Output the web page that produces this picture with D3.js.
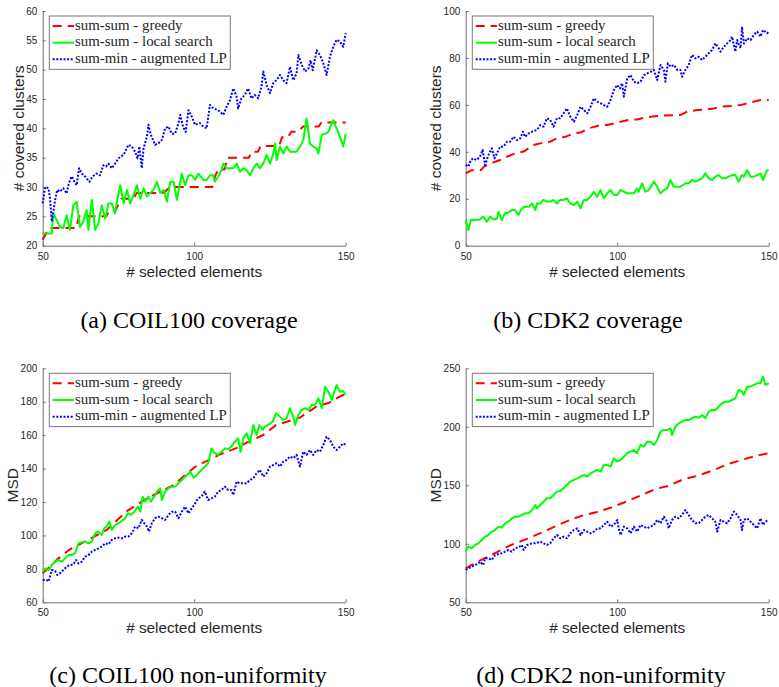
<!DOCTYPE html>
<html><head><meta charset="utf-8">
<script src="https://cdn.jsdelivr.net/npm/d3@7/dist/d3.min.js"></script>
<style>
html,body{margin:0;padding:0;background:#fff;}
svg{display:block;}
</style></head>
<body>
<svg id="chart" width="779" height="687"></svg>
<script>
// ---------- data ----------
const seriesNames = ["sum-sum - greedy", "sum-sum - local search", "sum-min - augmented LP"];
const xTicks = [50, 100, 150];
const yTicksCoilCov = [20, 25, 30, 35, 40, 45, 50, 55, 60];
const yTicksCdkCov = [0, 20, 40, 60, 80, 100];
const yTicksCoilMsd = [60, 80, 100, 120, 140, 160, 180, 200];
const yTicksCdkMsd = [50, 100, 150, 200, 250];
const xLabel = "# selected elements";
const yLabelCov = "# covered clusters";
const yLabelMsd = "MSD";
const captions = ["(a) COIL100 coverage", "(b) CDK2 coverage", "(c) COIL100 non-uniformity", "(d) CDK2 non-uniformity"];

// (a) COIL100 coverage
const coilCovGreedy = [[50,21],[51,22],[52,23],[61,23],[62,25],[71,25],[72,26],[74,26],[75,27],[76,28],[80,28],[81,29],[90,29],[92,30],[106,30],[107,32],[108,33],[110,33],[111,35],[118,35],[119,36],[121,36],[122,37],[128,37],[129,38.5],[131,38.5],[132,39.4],[134,39.4],[136,40.3],[141,40.3],[142,41],[150,41]];
const coilCovLocal = [[50,22.1],[52.4,22.1],[53,22.1],[53.5,25.5],[54.6,24.4],[55.7,23.2],[56.8,23],[57.9,25.2],[59,22.7],[60.1,26.9],[61.2,27.5],[62.3,23.2],[63.4,24.1],[64.5,26.1],[65.1,22.7],[66.2,27.8],[67.3,22.7],[68.4,23.8],[69.5,26.9],[70.6,24.6],[71.7,27.2],[72.8,27.2],[73.9,25.5],[74.4,27.2],[75.6,30.3],[76.7,27.2],[77.8,29.5],[78.9,27.2],[80,28.6],[81.1,30.3],[82.2,28],[83.3,29.8],[84.4,28.4],[85.5,29],[86.6,29.5],[87.7,30.9],[88.8,29],[89.9,29.5],[91,27.5],[92.1,30.9],[93.2,30.9],[94.3,27.8],[95.9,32.3],[97,30.3],[98.1,32],[99.2,32],[100.3,31.2],[101.4,32.3],[103,31.2],[104.1,31.2],[105.2,32],[106.3,32],[106.8,30.9],[107.9,31.8],[109,32.9],[109.6,34],[110.7,33.2],[111.8,33.2],[112.9,33.2],[114,34],[115.1,32.6],[116.2,33.2],[117.3,32.9],[118.4,32],[119.5,33.2],[120.6,34],[121.7,33.2],[122.8,34],[123.9,35.5],[125,34],[126.1,35.7],[126.7,37.4],[127.2,34.6],[128.3,36.9],[129.4,35.7],[130.5,36.9],[131.6,36],[132.7,36],[133.8,36],[134.9,36.9],[136,38],[137.1,41.7],[138.2,37.4],[139.3,36.9],[140.4,36.6],[141,35.7],[142.1,38.9],[143.2,39.1],[144.3,39.4],[145.4,40.9],[145.9,41.4],[147,40],[148.1,38.6],[149.2,36.9],[150,39.1]];
const coilCovLP = [[50,27.2],[50.8,30],[51.9,29.8],[52.4,28.1],[53,24.1],[54.1,27.8],[54.8,29.5],[55.7,29.2],[56.8,29.8],[57.9,28.9],[58.5,30.3],[59,31.2],[59.6,31.8],[60.4,31],[61.2,30.3],[62,33.2],[62.9,32.3],[64,31.8],[65.4,30.9],[66.5,31.8],[67.8,32.3],[68.9,32],[70,33.7],[70.9,33.5],[71.7,34],[72.8,33.2],[73.9,34],[75,34.9],[76.7,35.5],[78.3,37.2],[79.4,36.9],[80.5,36],[81.3,34.9],[81.9,36.9],[82.7,33.2],[83.3,36.6],[84.4,38.6],[84.9,40.6],[85.7,38.9],[87.1,37.2],[88.3,37.5],[89.3,38],[90.4,40],[91.5,40.3],[92.6,39.1],[93.7,39.1],[94.8,40.9],[95.4,42.3],[96.3,40.3],[97.2,39.4],[98.1,43.1],[99.2,42],[100.3,40.6],[101.9,40.9],[103,40.3],[104.1,40],[105.2,44],[106.3,43.4],[107.9,43.1],[109.6,42.3],[110.7,43.7],[111.8,44.8],[112.9,46.8],[114,45.4],[114.5,43.4],[115.6,45.1],[116.7,45.7],[117.8,46.8],[118.9,45.1],[120,45.7],[121.1,45.1],[122.2,47.1],[122.8,49.7],[123.9,47.4],[125,46],[126.1,47.7],[127.2,48.2],[128.3,49.1],[129.4,48.2],[130.5,47.7],[131.6,50.5],[132.7,48.2],[133.8,49.4],[134.4,52.5],[135.5,50.8],[136.6,49.7],[137.7,50.2],[138.4,51.6],[139.1,49.9],[139.9,51.9],[140.4,53.3],[141.5,52.5],[142.6,51.1],[143.7,49.1],[144.8,52.2],[145.9,53.9],[147,55.1],[148.1,54.8],[149.2,53.9],[150,56.2]];

// (b) CDK2 coverage
const cdkCovGreedy = [[50,30.8],[52,32.2],[55,32.2],[56,33.7],[59.7,35.8],[61.4,36.5],[63.6,37.9],[66.3,39.3],[69.1,40.1],[72.4,42.9],[74.6,43.6],[77.9,44.3],[80.1,45.7],[82.9,46.4],[85.7,47.9],[87.9,48.2],[90.6,50],[94.5,51.4],[96.7,51.4],[98.9,52.1],[101.1,52.8],[103.8,53.6],[106.6,53.8],[108.2,54.3],[111.5,55],[114.3,55.4],[120.9,55.7],[123.1,57.1],[126.4,57.8],[129.7,58.1],[131.9,58.5],[134.1,59.2],[137.4,59.5],[140.7,59.9],[142.9,60.7],[147.3,62.1],[150,62.1]];
const cdkCovLocal = [[50,10.9],[50.9,6.7],[51.7,10.9],[53.1,10.9],[54.7,11.2],[55.8,12.4],[57,10.2],[58.1,12.4],[59.2,11.2],[60.3,11.6],[60.8,14.5],[61.9,10.9],[63,13.8],[64.1,14.1],[65.2,15.2],[66.3,15.2],[67.4,13.1],[68.5,15.9],[69.6,16.6],[70.8,16.6],[71.9,18],[73,15.2],[73.5,18],[74.6,18],[75.7,19.5],[76.8,18.8],[77.9,18.8],[79,19.5],[80.1,18],[81.2,19.5],[82.3,19.5],[83.4,20.2],[84.5,18],[85.7,17.3],[86.8,18.8],[87.9,15.9],[89,19.5],[90.1,19.5],[91.2,20.9],[92.3,23],[93.4,20.9],[94.5,23.7],[95.6,20.2],[96.7,22.3],[97.8,23.7],[98.9,21.6],[100,21.6],[101.1,23.7],[102.2,23],[103.3,22.3],[104.4,22.3],[105.5,22.3],[106.6,24.4],[107.1,23],[108.2,26.6],[109.3,23],[110.4,23.7],[112.1,27.3],[113.2,25.1],[114.3,22.3],[115.4,23.7],[116.5,24.4],[117.6,28],[118.7,25.1],[119.8,25.1],[120.9,25.1],[122.5,26.6],[123.6,26.6],[124.7,28],[125.8,27.3],[126.9,28],[128,28.7],[129.1,30.8],[130.2,28.7],[131.3,28],[132.4,29.4],[133.5,30.1],[134.6,28.7],[135.7,28.7],[136.8,29.4],[137.9,30.1],[139,30.1],[140.1,27.3],[141.2,30.1],[141.8,29.4],[142.9,32.2],[144,29.4],[145.1,29.4],[146.2,30.1],[147.3,30.8],[148.1,28],[149.5,32.2],[150,32.2]];
const cdkCovLP = [[50,34.4],[50.9,33.7],[51.7,36.5],[52.5,37.2],[53.6,36.5],[54.7,37.9],[55.6,40.8],[56.4,34.4],[57.5,38.6],[58.6,41.5],[59.5,37.2],[60.3,39.3],[61.4,42.2],[62.5,42.2],[63.6,44.3],[64.7,44.3],[65.8,46.4],[66.9,45],[68,45.7],[68.9,48.6],[69.6,46.4],[70.8,47.9],[71.9,48.6],[73.5,49.3],[74.6,51.4],[75.7,50.7],[76.8,54.3],[77.9,53.6],[79,50.7],[80.1,54.3],[81.2,54.3],[82.3,56.4],[83.4,58.5],[84.5,55],[85.7,52.8],[86.8,55.7],[87.9,59.2],[89,57.8],[90.1,56.4],[91.2,59.2],[92.3,62.8],[93.4,61.4],[94.5,60.7],[95.6,59.9],[96.7,59.2],[97.8,62.1],[98.9,66.3],[100,68.5],[100.9,67],[101.6,69.2],[102.2,63.5],[103.3,71.3],[104.4,72.7],[105.5,69.9],[106.6,69.2],[107.7,69.9],[108.8,72.7],[109.9,73.4],[111,74.1],[112.1,74.9],[113.2,70.6],[114.3,77],[115.4,74.9],[115.9,69.9],[116.7,77.7],[117.6,76.3],[118.7,77],[119.8,74.9],[120.9,74.9],[121.4,72],[122.5,74.9],[123.6,77],[124.7,81.3],[125.8,79.8],[126.9,80.5],[128,79.1],[129.1,80.5],[130.2,82],[131.3,83.4],[132.4,86.2],[133.5,84.1],[134.1,82.7],[135.2,84.8],[136.3,86.2],[137.4,87.6],[137.9,89.1],[139,82.7],[139.6,87.6],[140.7,84.1],[141.2,93.3],[141.8,86.2],[142.9,88.4],[144,87.6],[145.1,89.8],[146.2,91.2],[147.3,89.1],[148.1,91.9],[149.5,90.5],[150,91.2]];

// (c) COIL100 non-uniformity
const coilMsdGreedy = [[50,77.3],[55.2,86.3],[59,91.7],[64.5,96.9],[71.1,103.3],[77.8,114.6],[84.4,122.2],[89.9,127.2],[93.2,130.2],[100.2,141],[108.8,148.7],[114.5,152.7],[117.8,156],[122.8,160.1],[127,166],[131.6,168.6],[134.9,170.5],[140.2,177],[144.3,179.2],[149,184],[150,184.4]];
const coilMsdLocal = [[50,78.3],[50.8,80.3],[51.9,79.3],[52.4,80.3],[53,82.3],[54.1,84.3],[55.2,85.3],[56.3,84.3],[57.4,86.3],[58.5,88.3],[59.6,88.3],[60.7,89.3],[61.8,95.3],[62.9,95.9],[64,96.3],[65.1,95.3],[66.2,96.3],[67.3,101.3],[68.4,102.3],[69.5,100.3],[70.3,104.3],[71.1,105.3],[72,108.3],[72.8,103.3],[73.9,106.3],[75,107.3],[76.1,108.7],[77.2,110.3],[78.1,113.3],[79.2,112.3],[80.3,114.3],[81.4,117.3],[82.2,114.3],[83,123.2],[83.8,120.2],[84.9,123.2],[85.7,120.2],[86.8,123.2],[87.7,126.2],[88.8,128.2],[89.3,121.2],[90.4,126.2],[91.5,128.2],[92.6,129.2],[93.7,129.2],[94.8,131.2],[95.9,133.2],[97.6,136.2],[98.7,138.2],[99.8,134.6],[100.9,136.2],[101.3,137.2],[103,140.2],[104.6,143.2],[105.7,152.1],[106.8,149.2],[107.9,148.2],[109,150.1],[110.1,152.1],[111.2,151.7],[112.3,153.1],[113.4,156.1],[114.5,158.1],[115.3,150.1],[116.2,158.1],[117.3,161.1],[118.4,155.1],[119.5,166.1],[120.6,160.1],[121.5,166.1],[122.6,163.1],[123.3,165.1],[124.4,166.1],[125.9,168.1],[127,173.1],[128.3,171.1],[129.4,169.1],[130.5,170.1],[131.6,176.1],[132.7,171.1],[133.3,166.1],[134.4,172.1],[135.5,175.1],[136.6,176.1],[137.7,175.1],[138.8,178.1],[139.9,178.1],[141,182.1],[142.1,176.1],[143.2,189],[144.3,186],[145.4,181.1],[147,190],[148.1,186],[149.2,186.4],[150,184]];
const coilMsdLP = [[50,73.4],[51.3,73.4],[51.9,72.4],[53,79.3],[54.1,78.7],[54.8,76.4],[55.7,77.4],[56.8,79.3],[57.9,81.3],[59,82.3],[60.1,82.7],[61,85.3],[61.8,83.3],[62.9,84.3],[64,87.3],[65.1,88.3],[66.2,90.3],[67.3,91.3],[68.4,92.3],[69.5,93.3],[70.6,95.3],[71.7,94.7],[72.8,97.3],[73.9,98.3],[75,98.7],[76.1,98.3],[77.2,99.3],[78.3,99.3],[79.4,101.3],[80.5,105.3],[81.6,104.3],[82.7,109.3],[83.5,107.3],[84.4,105.3],[85.1,102.3],[86,107.3],[87.1,110.3],[88.2,111.3],[89.3,110.3],[90.4,109.3],[91.5,112.3],[92.6,114.2],[93.7,114.2],[94.8,110.3],[95.9,114.2],[97,117.2],[98.1,113.2],[99.2,116.2],[100.3,119.2],[101.3,122.2],[102.4,123.2],[103.5,126.2],[104.6,121.2],[105.7,122.2],[106.8,123.2],[107.9,126.2],[109,127.2],[110.1,129.2],[111.2,127.2],[112.3,127.2],[112.9,124.2],[114,132.2],[115.1,131.2],[116.2,131.2],[117.3,131.2],[118.4,133.2],[119.5,134.2],[120.6,137.2],[121.7,139.2],[122.8,135.2],[123.9,137.2],[125,141.2],[126.1,142.2],[127.2,143.2],[128.3,141.2],[129.4,144.2],[130.5,145.2],[131.6,147.2],[132.7,146.2],[133.8,148.2],[134.9,141.2],[136,150.1],[137.1,148.2],[138.2,151.1],[139.3,148.2],[140.4,151.1],[141.5,150.1],[142.6,154.1],[143.7,159.1],[144.8,157.1],[145.9,153.1],[147,151.1],[148.1,153.1],[149.2,155.1],[150,154.1]];

// (d) CDK2 non-uniformity
const cdkMsdGreedy = [[50,79],[52,81.9],[55,86],[60,92.5],[65,99],[70,104],[75,109.5],[80,115.5],[85,121],[89,124.5],[93,127],[98,131],[103,136],[107.5,141],[112.5,146.7],[117,149.6],[122,155.3],[126.5,158.1],[132,163.1],[136.3,168],[141.8,172.3],[147,175.9],[150,177.4]];
const cdkMsdLocal = [[50,93.3],[50.9,97.6],[52,96.2],[53.1,99],[54.2,100.4],[55.3,103.3],[56.4,106.1],[57.5,107.5],[58.6,110.4],[59.7,111.8],[60.8,114.7],[61.9,113.9],[63,117.5],[64.1,118.9],[65.2,121.8],[66.3,123.2],[67.4,123.2],[68.5,124.6],[69.6,126.1],[70.8,126.1],[71.9,128.9],[73,133.2],[73.5,130.3],[74.6,133.2],[75.7,136],[76.8,138.9],[77.9,138.9],[79,141.7],[80.1,144.6],[81.2,145.2],[82.3,147.4],[83.4,150.3],[84.5,153.1],[85.7,154.6],[86.8,156],[87.9,157.4],[89,158.8],[90.1,157.4],[91.2,160.3],[92.3,161.7],[93.4,163.1],[94.5,161.7],[95.6,167.4],[96.7,167.4],[97.8,166],[98.9,173.1],[100,170.2],[101.1,171.6],[102.2,174.5],[103.3,177.4],[104.4,178.8],[105.5,180.2],[106.6,177.4],[107.7,184.5],[108.8,183],[109.9,187.3],[111,187.3],[112.1,184.5],[113.2,188.7],[114.3,195.9],[115.4,197.3],[116.5,197.3],[117.6,198.7],[118.1,193],[119.2,200.1],[120.3,203],[121.4,204.4],[122.5,205.8],[123.6,205.8],[124.7,207.3],[125.8,208.7],[126.9,207.8],[128,210.1],[129.1,207.3],[130.2,213],[131.3,214.4],[132.4,214.4],[133.5,217.2],[134.6,220.1],[135.7,221.5],[136.8,221.5],[137.9,222.9],[139,224.4],[140.1,231.5],[141.2,230.1],[141.8,227.2],[142.9,234.3],[144,234.3],[145.1,235.8],[146.2,237.2],[147.3,237.2],[148.1,242.9],[148.9,235.8],[150,237.2]];
const cdkMsdLP = [[50,77.6],[50.9,79],[52,80.5],[53.1,81.9],[54.2,83.3],[54.7,84.8],[55.8,81.9],[56.4,87.6],[57.5,87.6],[58.6,86.2],[59.7,90.5],[60.8,91.2],[61.9,91.9],[63,93.3],[64.1,94.7],[65.2,93.3],[66.3,96.2],[67.4,96.9],[68.5,99],[69.1,94.7],[70.2,99],[71.9,100.4],[73,100.4],[74.6,101.9],[75.7,100.4],[76.8,99],[77.9,100.4],[79,104.7],[80.1,107.5],[81.2,104.7],[82.3,106.1],[83.4,104.7],[84.5,109],[85.7,111.8],[86.8,113.2],[87.9,107.5],[89,111.8],[90.1,110.4],[91.2,109],[92.3,110.4],[93.4,113],[94.5,113.2],[95.6,116.1],[96.7,118.9],[97.8,114.7],[98.9,116.1],[100,120.4],[100.5,113.2],[101.1,107.5],[102.2,114.7],[103.3,113.2],[104.4,109],[105.5,114.7],[106.6,110.4],[107.7,116.1],[108.8,114.7],[109.9,113.2],[111,114.7],[112.1,116.1],[113.2,120.4],[114.3,117.5],[115.4,123.2],[116.5,118.9],[117,113.2],[118.1,120.4],[119.2,123.2],[120.3,121.8],[121.4,124.6],[122.5,128.9],[123.6,124.6],[124.7,120.4],[125.8,117.5],[126.9,117.5],[128,120.4],[129.1,123.2],[130.2,124.6],[131.3,121.8],[132.4,118.9],[133,110.4],[134.1,120.4],[135.2,118.9],[136.3,117.5],[137.4,121.8],[138.5,127.5],[139.6,124.6],[140.7,120.4],[141.2,111.8],[141.8,120.4],[142.9,121.8],[144,118.9],[145.1,116.1],[146.2,113.2],[147.3,121.8],[148.1,116.1],[148.9,118.9],[150,120.4]];

// ---------- font detection ----------
function pickFont(cands, fallback) {
  const ctx = document.createElement("canvas").getContext("2d");
  const txt = "(a) COIL100 coverage sum-min mmwwiiLP";
  for (const f of cands) {
    let ok = true;
    for (const g of ["monospace", "sans-serif"]) {
      ctx.font = "40px " + g;
      const w0 = ctx.measureText(txt).width;
      ctx.font = '40px "' + f + '", ' + g;
      const w1 = ctx.measureText(txt).width;
      if (Math.abs(w0 - w1) < 0.01) { ok = false; break; }
    }
    if (ok) return '"' + f + '", serif';
  }
  return fallback;
}
const serifFont = pickFont(["Liberation Serif", "Tinos", "Times New Roman", "Times", "Nimbus Roman", "Nimbus Roman No9 L", "FreeSerif", "TeX Gyre Termes", "DejaVu Serif", "Noto Serif", "Bitstream Vera Serif", "Source Serif Pro", "Georgia"], "serif");
const sansFont = '"Liberation Sans", Arial, Helvetica, sans-serif';

// ---------- layout / style ----------
const svg = d3.select("#chart");
const axisColor = "#6f6f6f";
const textColor = "#262626";
const styles = [
  {color: "#ff0000", dash: "9,6", width: 2},
  {color: "#00ff00", dash: null, width: 2},
  {color: "#0000ff", dash: "2,1.6", width: 2}
];

const panels = [
  {left: 42.7, right: 345.7, top: 11, bottom: 245.7, ydom: [20, 60], yticks: yTicksCoilCov, ylabel: yLabelCov, caption: captions[0], capX: 189, capY: 328, series: [coilCovGreedy, coilCovLocal, coilCovLP]},
  {left: 465.7, right: 768.7, top: 11, bottom: 245.7, ydom: [0, 100], yticks: yTicksCdkCov, ylabel: yLabelCov, caption: captions[1], capX: 588, capY: 328, series: [cdkCovGreedy, cdkCovLocal, cdkCovLP]},
  {left: 42.7, right: 345.7, top: 368.3, bottom: 602.3, ydom: [60, 200], yticks: yTicksCoilMsd, ylabel: yLabelMsd, caption: captions[2], capX: 188, capY: 683, series: [coilMsdGreedy, coilMsdLocal, coilMsdLP]},
  {left: 465.7, right: 768.7, top: 368.3, bottom: 602.3, ydom: [50, 250], yticks: yTicksCdkMsd, ylabel: yLabelMsd, caption: captions[3], capX: 601, capY: 683, series: [cdkMsdGreedy, cdkMsdLocal, cdkMsdLP]}
];

panels.forEach(p => {
  const g = svg.append("g");
  const x = d3.scaleLinear().domain([50, 150]).range([p.left, p.right]);
  const y = d3.scaleLinear().domain(p.ydom).range([p.bottom, p.top]);

  const xAxis = d3.axisBottom(x).tickValues(xTicks).tickSizeInner(-3).tickSizeOuter(0).tickPadding(7);
  const yAxis = d3.axisLeft(y).tickValues(p.yticks).tickSizeInner(-3).tickSizeOuter(0).tickPadding(5.4);
  const gx = g.append("g").attr("transform", `translate(0,${p.bottom})`).call(xAxis);
  const gy = g.append("g").attr("transform", `translate(${p.left},0)`).call(yAxis);
  [gx, gy].forEach(a => {
    a.attr("font-family", sansFont).attr("font-size", 10);
    a.select(".domain").attr("stroke", axisColor).attr("stroke-width", 1);
    a.selectAll(".tick line").attr("stroke", axisColor).attr("stroke-width", 1);
    a.selectAll(".tick text").attr("fill", textColor);
  });

  let maxW = 0;
  gy.selectAll(".tick text").each(function(){ maxW = Math.max(maxW, this.getComputedTextLength()); });

  const line = d3.line().x(d => x(d[0])).y(d => y(d[1]));
  p.series.forEach((s, i) => {
    const st = styles[i];
    g.append("path").datum(s)
      .attr("d", line)
      .attr("fill", "none")
      .attr("stroke", st.color)
      .attr("stroke-width", st.width)
      .attr("stroke-linejoin", "round")
      .attr("stroke-dasharray", st.dash);
  });

  g.append("text")
    .attr("x", (p.left + p.right) / 2)
    .attr("y", p.bottom + 30.8)
    .attr("text-anchor", "middle")
    .attr("fill", textColor)
    .attr("font-family", sansFont).attr("font-size", 15.3)
    .text(xLabel);
  const lx = p.left - 5.4 - maxW - 2.5;
  g.append("text")
    .attr("transform", `translate(${lx},${(p.top + p.bottom) / 2}) rotate(-90)`)
    .attr("text-anchor", "middle")
    .attr("fill", textColor)
    .attr("font-family", sansFont).attr("font-size", 15.5)
    .text(p.ylabel);

  // legend
  const lg = g.append("g");
  const lx0 = p.left + 6.6, ly0 = p.top + 5;
  const rowH = 16.67;
  const box = lg.append("rect")
    .attr("x", lx0).attr("y", ly0)
    .attr("height", rowH * 3 + 3.3)
    .attr("fill", "#fff").attr("stroke", "#7a7a7a").attr("stroke-width", 1);
  let maxT = 0;
  seriesNames.forEach((name, i) => {
    const cy = ly0 + 10 + i * rowH;
    const st = styles[i];
    lg.append("line")
      .attr("x1", lx0 + 3.4).attr("x2", lx0 + 24.7)
      .attr("y1", cy).attr("y2", cy)
      .attr("stroke", st.color).attr("stroke-width", st.width)
      .attr("stroke-dasharray", st.dash);
    const t = lg.append("text")
      .attr("x", lx0 + 25.7).attr("y", cy + 3.6)
      .attr("fill", textColor)
      .attr("font-family", serifFont).attr("font-size", 14.9)
      .text(name);
    maxT = Math.max(maxT, t.node().getComputedTextLength());
  });
  box.attr("width", 25.7 + maxT + 3.5);

  svg.append("text")
    .attr("x", p.capX).attr("y", p.capY)
    .attr("text-anchor", "middle")
    .attr("fill", "#000")
    .attr("font-family", serifFont).attr("font-size", 24)
    .text(p.caption);
});
</script>
</body></html>
